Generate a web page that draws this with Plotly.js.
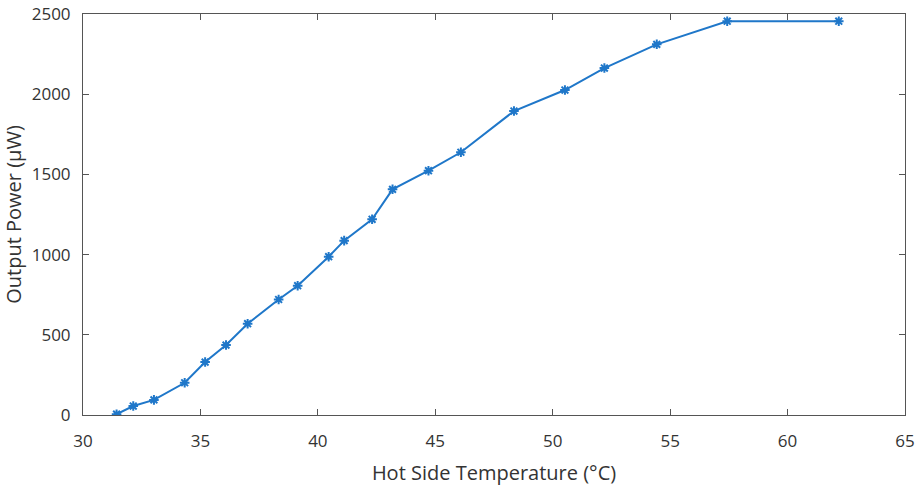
<!DOCTYPE html>
<html>
<head>
<meta charset="utf-8">
<script src="https://cdn.plot.ly/plotly-3.0.1.min.js"></script>
<style>html,body{margin:0;padding:0;background:#fff;}#chart{width:917px;height:488px;}</style>
</head>
<body>
<div id="chart"></div>
<script>
const temperature = [31.43, 32.14, 33.02, 34.33, 35.20, 36.09, 37.01, 38.33, 39.14, 40.46, 41.12, 42.31, 43.18, 44.71, 46.09, 48.35, 50.52, 52.20, 54.43, 57.43, 62.18];
const power = [5, 56, 94, 201, 330, 436, 569, 720, 806, 987, 1087, 1220, 1407, 1523, 1638, 1895, 2026, 2163, 2311, 2455, 2455];
const xTicks = [30, 35, 40, 45, 50, 55, 60, 65];
const yTicks = [0, 500, 1000, 1500, 2000, 2500];

const color = '#1f77c9';
const fam = 'Open Sans, sans-serif';
const tickFont = {family: fam, size: 17, color: '#333'};
const titleFont = {family: fam, size: 20, color: '#333'};

Plotly.newPlot('chart', [{
  x: temperature,
  y: power,
  type: 'scatter',
  mode: 'lines+markers',
  line: {color: color, width: 2},
  marker: {symbol: 'asterisk-open', size: 8, color: color, line: {color: color, width: 2}}
}], {
  width: 917, height: 488,
  margin: {l: 83, r: 12, t: 14, b: 73},
  paper_bgcolor: '#fff', plot_bgcolor: '#fff',
  showlegend: false,
  font: tickFont,
  xaxis: {
    range: [30, 65], tickvals: xTicks, ticktext: xTicks.map(String),
    showgrid: false, zeroline: false, showline: true, mirror: 'ticks',
    linecolor: '#555', linewidth: 1, ticks: 'inside', ticklen: 6, tickcolor: '#555',
    tickfont: tickFont, ticklabelstandoff: 11,
    title: {text: 'Hot Side Temperature (°C)', font: titleFont, standoff: 14}
  },
  yaxis: {
    range: [0, 2500], tickvals: yTicks, ticktext: yTicks.map(String),
    showgrid: false, zeroline: false, showline: true, mirror: 'ticks',
    linecolor: '#555', linewidth: 1, ticks: 'inside', ticklen: 6, tickcolor: '#555',
    tickfont: tickFont, ticklabelstandoff: 8,
    title: {text: 'Output Power (μW)', font: titleFont, standoff: 8}
  }
}, {displayModeBar: false, staticPlot: true});
</script>
</body>
</html>
